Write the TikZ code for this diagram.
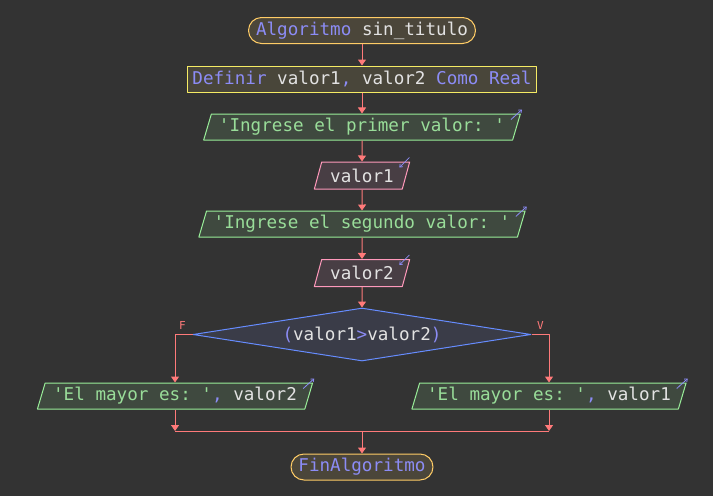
\documentclass[tikz,border=0pt]{standalone}
\usepackage{fontspec}
\setmonofont{DejaVu Sans Mono}
\usetikzlibrary{shapes.geometric, shapes.misc, arrows.meta}

\begin{document}
\begin{tikzpicture}[x=1pt, y=-1pt, font=\ttfamily\fontsize{17.6}{20}\selectfont, line join=round, line width=1pt,
		>={Triangle[width=8pt, length=6pt]},
		flow/.style={draw=flowcolor, ->},
		term/.style={rounded rectangle, draw=termcolor, fill=termfill, text=varcolor, minimum width=#1, minimum height=26pt, inner sep=0pt},
		defbox/.style={rectangle, draw=defcolor, fill=deffill, text=varcolor, minimum width=#1, minimum height=26pt, inner sep=0pt},
		outbox/.style={trapezium, trapezium left angle=67, trapezium right angle=113, trapezium stretches=true, draw=outcolor, fill=outfill, text=strcolor, minimum width=#1, minimum height=26pt, inner sep=0pt},
		inbox/.style={trapezium, trapezium left angle=67, trapezium right angle=113, trapezium stretches=true, draw=incolor, fill=infill, text=varcolor, minimum width=#1, minimum height=27pt, inner sep=0pt},
		cond/.style={diamond, aspect=6.4, draw=condcolor, fill=condfill, text=varcolor, minimum width=338pt, minimum height=53pt, inner sep=0pt},
		lbl/.style={text=flowcolor, font=\ttfamily\fontsize{11}{12}\selectfont},
		icon/.style={draw=kwcolor, line width=0.8pt, -{Straight Barb[length=2.5pt, width=4pt]}}]
	\definecolor{bgcolor}{RGB}{51,51,51}
	\definecolor{flowcolor}{RGB}{255,122,122}
	\definecolor{termcolor}{RGB}{255,204,102}
	\definecolor{termfill}{RGB}{75,70,58}
	\definecolor{defcolor}{RGB}{245,235,100}
	\definecolor{deffill}{RGB}{73,70,58}
	\definecolor{outcolor}{RGB}{153,238,153}
	\definecolor{outfill}{RGB}{63,73,63}
	\definecolor{incolor}{RGB}{255,153,187}
	\definecolor{infill}{RGB}{72,62,68}
	\definecolor{condcolor}{RGB}{102,140,255}
	\definecolor{condfill}{RGB}{58,60,72}
	\definecolor{kwcolor}{RGB}{140,140,245}
	\definecolor{varcolor}{RGB}{226,226,226}
	\definecolor{strcolor}{RGB}{153,221,153}
	\newcommand{\kw}[1]{\textcolor{kwcolor}{#1}}
	\def\midx{362}
	\fill[bgcolor] (0,0) rectangle (713,496);
	% main column
	\node[term=227pt] (start) at (\midx,30.5) {\kw{Algoritmo} sin\_titulo};
	\node[defbox=349pt] (def) at (\midx,79) {\kw{Definir} valor1\kw{,} valor2 \kw{Como Real}};
	\node[outbox=318pt] (o1) at (\midx,127) {'Ingrese el primer valor: '};
	\node[inbox=96pt] (i1) at (\midx,175.5) {valor1};
	\node[outbox=327pt] (o2) at (\midx,224) {'Ingrese el segundo valor: '};
	\node[inbox=96pt] (i2) at (\midx,273) {valor2};
	\node[cond] (c) at (\midx,334.5) {\kw{(}valor1\kw{>}valor2\kw{)}};
	% branches
	\node[outbox=276pt] (oL) at (175,396) {'El mayor es: '\kw{,} \textcolor{varcolor}{valor2}};
	\node[outbox=275pt] (oR) at (549,396) {'El mayor es: '\kw{,} \textcolor{varcolor}{valor1}};
	\node[term=142pt] (end) at (\midx,467) {\kw{FinAlgoritmo}};
	\coordinate (join) at (\midx,431);
	\node[lbl] (lblF) at ([xshift=-10pt, yshift=9pt]c.west) {F};
	\node[lbl] (lblV) at ([xshift=9pt, yshift=9pt]c.east) {V};
	% connectors
	\draw[flow] (start) -- (def);
	\draw[flow] (def) -- (o1);
	\draw[flow] (o1) -- (i1);
	\draw[flow] (i1) -- (o2);
	\draw[flow] (o2) -- (i2);
	\draw[flow] (i2) -- (c);
	\draw[flow] (c.west) -| (oL.north);
	\draw[flow] (c.east) -| (oR.north);
	\draw[flow] (oL.south) -- (oL.south |- join);
	\draw[flow] (oR.south) -- (oR.south |- join);
	\draw[draw=flowcolor] (oL.south |- join) -- (oR.south |- join);
	\draw[flow] (join) -- (end);
	% io marks
	\foreach \n in {o1,o2,oL,oR} {
		\draw[icon] ([shift={(-10pt,-6pt)}]\n.top right corner) -- ([shift={(1pt,4pt)}]\n.top right corner);
	}
	\foreach \n in {i1,i2} {
		\draw[icon] ([shift={(-1pt,4pt)}]\n.top right corner) -- ([shift={(-11pt,-6pt)}]\n.top right corner);
	}
\end{tikzpicture}
\end{document}
